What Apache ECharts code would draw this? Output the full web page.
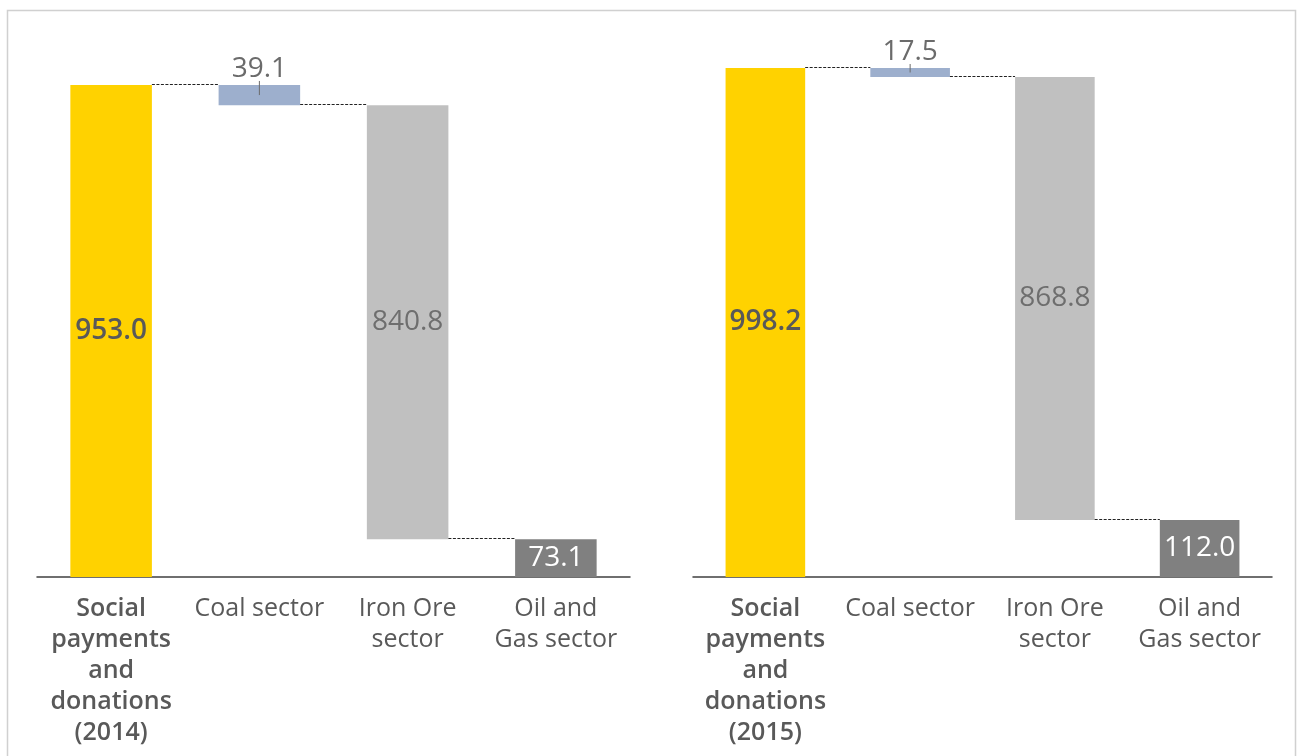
<!DOCTYPE html>
<html>
<head>
<meta charset="utf-8">
<script src="https://cdn.jsdelivr.net/npm/echarts@6/dist/echarts.min.js"></script>
<style>
html,body{margin:0;padding:0;background:#fff;}
#chart{width:1297px;height:756px;}
</style>
</head>
<body>
<div id="chart"></div>
<script>
// ---- data ----
const categories2014 = ['Social\npayments\nand\ndonations\n(2014)', 'Coal sector', 'Iron Ore\nsector', 'Oil and\nGas sector'];
const values2014 = [953.0, 39.1, 840.8, 73.1];
const categories2015 = ['Social\npayments\nand\ndonations\n(2015)', 'Coal sector', 'Iron Ore\nsector', 'Oil and\nGas sector'];
const values2015 = [998.2, 17.5, 868.8, 112.0];

const COLORS = ['#FFD200', '#9DAFCD', '#C0C0C0', '#808080'];
const LABEL_COLORS = ['#595959', '#6B6B6B', '#6E6E6E', '#FFFFFF'];
const FONT = '"Open Sans", sans-serif';
const BAR_RATIO = 0.55;

function waterfall(values) {
  // first bar is total; following bars are decreases; last ends at 0
  const bases = [0];
  let level = values[0];
  for (let i = 1; i < values.length; i++) {
    level -= values[i];
    bases.push(i === values.length - 1 ? 0 : Math.max(0, level));
  }
  const links = [];
  for (let i = 0; i < values.length - 1; i++) {
    const lvl = i === 0 ? values[0] : bases[i];
    links.push([i, lvl]);
  }
  return { bases, links };
}

function buildSeries(values, idx) {
  const wf = waterfall(values);
  const series = [];
  series.push({
    type: 'bar', xAxisIndex: idx, yAxisIndex: idx, stack: 'wf' + idx,
    barWidth: (BAR_RATIO * 100) + '%', silent: true,
    itemStyle: { color: 'transparent' },
    data: wf.bases
  });
  series.push({
    type: 'bar', xAxisIndex: idx, yAxisIndex: idx, stack: 'wf' + idx,
    barWidth: (BAR_RATIO * 100) + '%',
    data: values.map((v, i) => ({
      value: v,
      itemStyle: { color: COLORS[i] },
      label: {
        show: true,
        position: i === 1 ? 'top' : 'inside',
        distance: 2,
        color: LABEL_COLORS[i],
        fontFamily: FONT,
        fontSize: 28,
        fontWeight: i === 0 ? 600 : 'normal',
        formatter: () => v.toFixed(1)
      }
    }))
  });
  // dashed connectors
  series.push({
    type: 'custom', xAxisIndex: idx, yAxisIndex: idx, silent: true, z: 5,
    data: wf.links,
    renderItem: function (params, api) {
      const i = api.value(0), lvl = api.value(1);
      const p1 = api.coord([i, lvl]);
      const p2 = api.coord([i + 1, lvl]);
      const hw = api.size([1, 0])[0] * BAR_RATIO / 2;
      return {
        type: 'line',
        shape: { x1: p1[0] + hw, y1: Math.round(p1[1]) - 0.5, x2: p2[0] - hw, y2: Math.round(p1[1]) - 0.5 },
        style: { stroke: '#222', lineWidth: 1, lineDash: [3, 1.5] }
      };
    }
  });
  // leader tick on small bar label
  series.push({
    type: 'custom', xAxisIndex: idx, yAxisIndex: idx, silent: true, z: 6,
    data: [[1, values[0], values[0] - values[1]]],
    renderItem: function (params, api) {
      const top = api.coord([api.value(0), api.value(1)]);
      const bot = api.coord([api.value(0), api.value(2)]);
      const h = bot[1] - top[1];
      return {
        type: 'line',
        shape: { x1: top[0], y1: top[1] - 4, x2: top[0], y2: top[1] + Math.min(11, h * 0.5) },
        style: { stroke: '#6B6B6B', lineWidth: 1 }
      };
    }
  });
  return series;
}

function xAxis(cats, idx) {
  return {
    type: 'category', gridIndex: idx,
    data: cats.map((c, i) => i === 0 ? { value: c, textStyle: { fontWeight: 600 } } : c),
    axisLine: { lineStyle: { color: '#404040', width: 1.5 } },
    axisTick: { show: false },
    axisLabel: {
      interval: 0, color: '#595959', fontFamily: FONT, fontSize: 25,
      lineHeight: 31, margin: 16
    }
  };
}

const chart = echarts.init(document.getElementById('chart'), null, { renderer: 'canvas' });
chart.setOption({
  animation: false,
  backgroundColor: '#fff',
  graphic: [{
    type: 'rect', z: -10, silent: true,
    shape: { x: 7.5, y: 10.5, width: 1288, height: 760 },
    style: { fill: 'none', stroke: '#D0D0D0', lineWidth: 1.5 }
  }],
  grid: [
    { left: 37, width: 593, top: 60.7, bottom: 179 },
    { left: 693, width: 579, top: 41.6, bottom: 179 }
  ],
  xAxis: [xAxis(categories2014, 0), xAxis(categories2015, 1)],
  yAxis: [
    { type: 'value', gridIndex: 0, min: 0, max: 1000, show: false, splitLine: { show: false } },
    { type: 'value', gridIndex: 1, min: 0, max: 1050, show: false, splitLine: { show: false } }
  ],
  series: [].concat(buildSeries(values2014, 0), buildSeries(values2015, 1))
});
</script>
</body>
</html>
